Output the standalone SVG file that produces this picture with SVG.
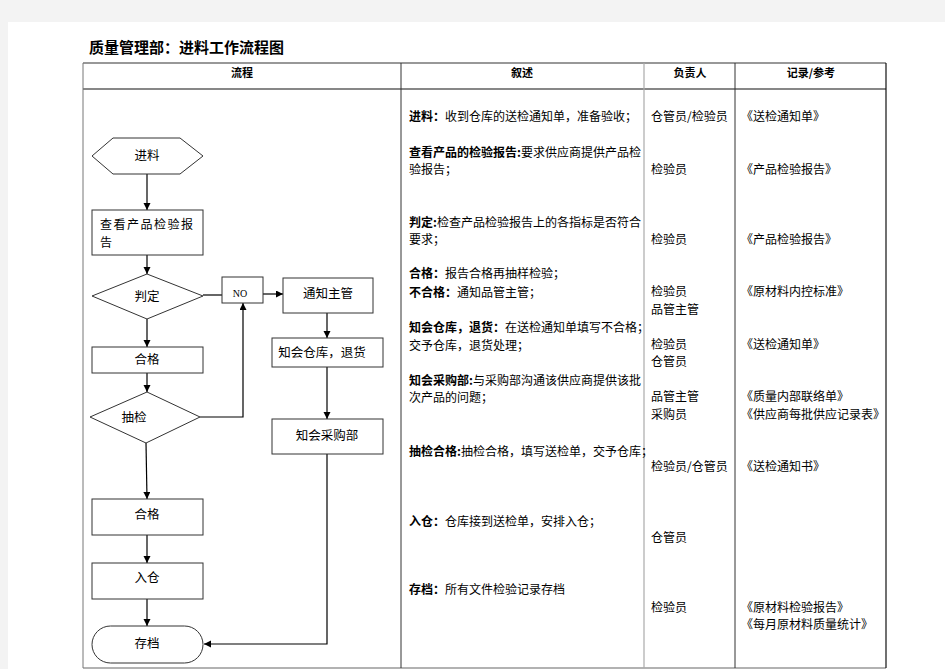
<svg xmlns="http://www.w3.org/2000/svg" width="945" height="669" viewBox="0 0 945 669">
<defs>
<marker id="ah" markerUnits="userSpaceOnUse" markerWidth="8" markerHeight="8" refX="7" refY="3.5" orient="auto">
<path d="M0,0 L7,3.5 L0,7 z" fill="#000"/>
</marker>
<style>
text{font-family:"Noto Sans CJK SC","Noto Sans",sans-serif;fill:#000}
.t{font-size:15px;font-weight:bold}
.h{font-size:11px;font-weight:bold;text-anchor:middle}
.d{font-size:12px}
.b{font-weight:bold}
.n{font-size:12.5px;text-anchor:middle}
.shape{fill:#fff;stroke:#333;stroke-width:1}
.c{fill:none;stroke:#000;stroke-width:1.2}
.ca{fill:none;stroke:#000;stroke-width:1.2;marker-end:url(#ah)}
.no{font-family:"Liberation Serif",serif;font-size:10px;text-anchor:middle}
</style>
</defs>
<rect x="0" y="0" width="945" height="669" fill="#f3f3f3"/>
<rect x="8" y="22" width="937" height="647" fill="#fff"/>
<text class="t" x="89" y="53">质量管理部：进料工作流程图</text>
<g id="table">
<line x1="83" y1="63" x2="886" y2="63" stroke="#333" stroke-width="1.2"/>
<line x1="83" y1="89" x2="886" y2="89" stroke="#111" stroke-width="1.2"/>
<line x1="83" y1="668" x2="886" y2="668" stroke="#999" stroke-width="1.5"/>
<line x1="83" y1="63" x2="83" y2="668" stroke="#777" stroke-width="1"/>
<line x1="401" y1="63" x2="401" y2="668" stroke="#333" stroke-width="1"/>
<line x1="644" y1="63" x2="644" y2="668" stroke="#aaa" stroke-width="1.2"/>
<line x1="735" y1="63" x2="735" y2="668" stroke="#333" stroke-width="1"/>
<line x1="886" y1="63" x2="886" y2="668" stroke="#111" stroke-width="1.2"/>
<text class="h" x="242" y="77">流程</text>
<text class="h" x="522" y="77">叙述</text>
<text class="h" x="690" y="77">负责人</text>
<text class="h" x="811" y="77">记录/参考</text>
</g>
<g id="connectors">
<line class="ca" x1="147" y1="174" x2="147" y2="210"/>
<line class="ca" x1="147" y1="255" x2="147" y2="274"/>
<line class="c" x1="203" y1="295" x2="222" y2="295"/>
<line class="ca" x1="263" y1="294" x2="283" y2="294"/>
<line class="ca" x1="327" y1="313" x2="327" y2="338"/>
<line class="ca" x1="327" y1="367" x2="327" y2="419"/>
<polyline class="ca" points="327,454 327,644 204,644"/>
<line class="ca" x1="147" y1="319" x2="147" y2="347"/>
<line class="ca" x1="147" y1="373" x2="147" y2="392"/>
<polyline class="ca" points="200,417 243,417 243,303"/>
<line class="ca" x1="146" y1="443" x2="147" y2="499"/>
<line class="ca" x1="147" y1="535" x2="147" y2="563"/>
<line class="ca" x1="147" y1="599" x2="147" y2="626"/>
</g>
<g id="n_jinliao">
<polygon class="shape" points="92,156 113,138 180,138 203,156 180,174 113,174"/>
<text class="n" x="147" y="160">进料</text>
</g>
<g id="n_chakan">
<rect class="shape" x="92" y="210" width="111" height="45"/>
<text class="d" x="100" y="229" style="letter-spacing:1.5px">查看产品检验报</text>
<text class="d" x="100" y="247">告</text>
</g>
<g id="n_panding">
<polygon class="shape" points="147,274 203,296 147,319 92,296"/>
<text class="n" x="147" y="301">判定</text>
</g>
<g id="n_no">
<rect class="shape" x="222" y="277" width="41" height="26"/>
<text class="no" x="240" y="297">NO</text>
</g>
<g id="n_tongzhi">
<rect class="shape" x="283" y="278" width="90" height="35"/>
<text class="n" x="328" y="298">通知主管</text>
</g>
<g id="n_zhihui_cangku">
<rect class="shape" x="272" y="338" width="111" height="29"/>
<text class="n" x="322" y="357">知会仓库，退货</text>
</g>
<g id="n_zhihui_caigou">
<rect class="shape" x="272" y="419" width="111" height="35"/>
<text class="n" x="327" y="440">知会采购部</text>
</g>
<g id="n_hege1">
<rect class="shape" x="92" y="347" width="111" height="26"/>
<text class="n" x="147" y="364">合格</text>
</g>
<g id="n_choujian">
<polygon class="shape" points="147,392 200,417 146,443 90,417"/>
<text class="n" x="134" y="422">抽检</text>
</g>
<g id="n_hege2">
<rect class="shape" x="92" y="499" width="111" height="36"/>
<text class="n" x="147" y="519">合格</text>
</g>
<g id="n_rucang">
<rect class="shape" x="92" y="563" width="111" height="36"/>
<text class="n" x="147" y="582">入仓</text>
</g>
<g id="n_cundang">
<rect class="shape" x="92" y="626" width="111" height="37" rx="18.5" ry="18.5"/>
<text class="n" x="147" y="648">存档</text>
</g>
<g id="desc">
<text class="d" x="409" y="121"><tspan class="b">进料：</tspan>收到仓库的送检通知单，准备验收；</text>
<text class="d" x="409" y="157"><tspan class="b">查看产品的检验报告:</tspan>要求供应商提供产品检</text>
<text class="d" x="409" y="174">验报告；</text>
<text class="d" x="409" y="227"><tspan class="b">判定:</tspan>检查产品检验报告上的各指标是否符合</text>
<text class="d" x="409" y="244">要求；</text>
<text class="d" x="409" y="278"><tspan class="b">合格：</tspan>报告合格再抽样检验；</text>
<text class="d" x="409" y="297"><tspan class="b">不合格：</tspan>通知品管主管；</text>
<text class="d" x="409" y="332"><tspan class="b">知会仓库，退货：</tspan>在送检通知单填写不合格；</text>
<text class="d" x="409" y="350">交予仓库，退货处理；</text>
<text class="d" x="409" y="385"><tspan class="b">知会采购部:</tspan>与采购部沟通该供应商提供该批</text>
<text class="d" x="409" y="402">次产品的问题；</text>
<text class="d" x="409" y="456"><tspan class="b">抽检合格:</tspan>抽检合格，填写送检单，交予仓库；</text>
<text class="d" x="409" y="526"><tspan class="b">入仓：</tspan>仓库接到送检单，安排入仓；</text>
<text class="d" x="409" y="594"><tspan class="b">存档：</tspan>所有文件检验记录存档</text>
</g>
<g id="owner">
<text class="d" x="651" y="121">仓管员/检验员</text>
<text class="d" x="651" y="174">检验员</text>
<text class="d" x="651" y="244">检验员</text>
<text class="d" x="651" y="296">检验员</text>
<text class="d" x="651" y="314">品管主管</text>
<text class="d" x="651" y="349">检验员</text>
<text class="d" x="651" y="366">仓管员</text>
<text class="d" x="651" y="401">品管主管</text>
<text class="d" x="651" y="419">采购员</text>
<text class="d" x="651" y="471">检验员/仓管员</text>
<text class="d" x="651" y="542">仓管员</text>
<text class="d" x="651" y="612">检验员</text>
</g>
<g id="records">
<text class="d" x="741" y="121">《送检通知单》</text>
<text class="d" x="741" y="174">《产品检验报告》</text>
<text class="d" x="741" y="244">《产品检验报告》</text>
<text class="d" x="741" y="296">《原材料内控标准》</text>
<text class="d" x="741" y="349">《送检通知单》</text>
<text class="d" x="741" y="401">《质量内部联络单》</text>
<text class="d" x="741" y="419">《供应商每批供应记录表》</text>
<text class="d" x="741" y="471">《送检通知书》</text>
<text class="d" x="741" y="612">《原材料检验报告》</text>
<text class="d" x="741" y="629">《每月原材料质量统计》</text>
</g>
</svg>
